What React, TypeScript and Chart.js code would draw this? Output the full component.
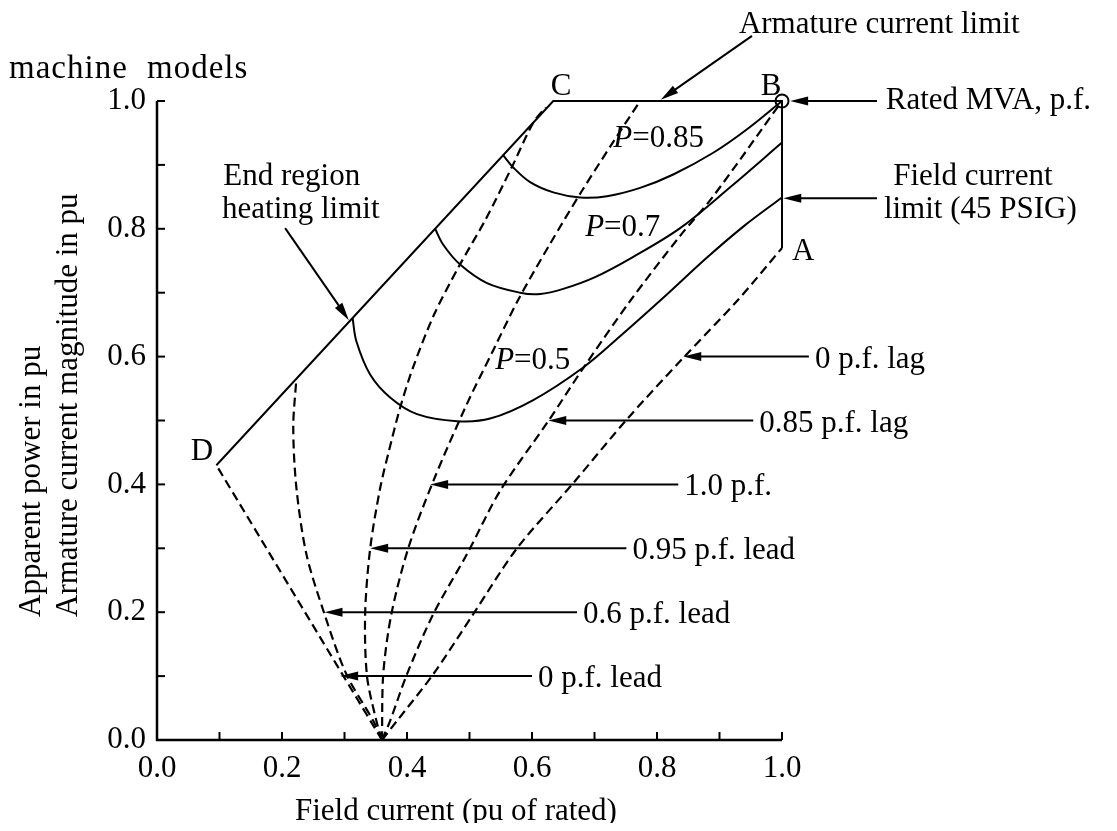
import React, { useEffect, useRef } from "react";
import { Chart, registerables } from "chart.js";

Chart.register(...registerables);

const SERIF = '"Liberation Serif", "Times New Roman", serif';

// ---------------- data (x = field current pu, y = armature current / apparent power pu) ----------------
// Capability boundary D - C - B - A
const boundaryX = [0.095, 0.634, 1.0, 1.0];
const boundaryY = [0.43, 1.0, 1.0, 0.77];

// Constant real power curves
const p085X = [0.554, 0.57, 0.597, 0.634, 0.677, 0.72, 0.773, 0.826, 0.89, 0.943, 1.0];
const p085Y = [0.915, 0.896, 0.873, 0.857, 0.849, 0.851, 0.864, 0.885, 0.919, 0.955, 1.0];

const p07X = [0.445, 0.458, 0.485, 0.528, 0.581, 0.613, 0.65, 0.7, 0.76, 0.837, 0.917, 1.0];
const p07Y = [0.8, 0.775, 0.744, 0.715, 0.7, 0.698, 0.706, 0.724, 0.755, 0.801, 0.865, 0.935];

const p05X = [0.313, 0.319, 0.341, 0.373, 0.416, 0.48, 0.533, 0.602, 0.682, 0.74, 0.81, 0.88, 0.94, 1.0];
const p05Y = [0.66, 0.624, 0.572, 0.536, 0.51, 0.499, 0.503, 0.532, 0.583, 0.631, 0.692, 0.755, 0.805, 0.849];

// Constant power-factor lines (dashed)
const pf0LeadX = [0.36, 0.095];
const pf0LeadY = [0.0, 0.43];

const pf06LeadX = [0.36, 0.346, 0.303, 0.268, 0.239, 0.223, 0.218, 0.223];
const pf06LeadY = [0.0, 0.03, 0.103, 0.197, 0.291, 0.395, 0.49, 0.565];

const pf095LeadX = [0.36, 0.351, 0.336, 0.333, 0.341, 0.357, 0.371, 0.389, 0.41, 0.443, 0.483, 0.526, 0.567, 0.602, 0.622];
const pf095LeadY = [0.0, 0.03, 0.1, 0.197, 0.299, 0.394, 0.452, 0.52, 0.584, 0.665, 0.741, 0.815, 0.895, 0.966, 0.99];

const pf10X = [0.36, 0.362, 0.375, 0.402, 0.442, 0.494, 0.538, 0.578, 0.628, 0.679, 0.73, 0.773];
const pf10Y = [0.0, 0.103, 0.197, 0.3, 0.405, 0.522, 0.61, 0.689, 0.775, 0.858, 0.936, 1.0];

const pf085LagX = [0.36, 0.373, 0.4, 0.442, 0.496, 0.549, 0.626, 0.682, 0.757, 0.837, 0.89, 1.0];
const pf085LagY = [0.0, 0.03, 0.103, 0.197, 0.291, 0.39, 0.499, 0.582, 0.687, 0.789, 0.851, 1.0];

const pf0LagX = [0.36, 0.384, 0.442, 0.506, 0.576, 0.666, 0.752, 0.842, 0.928, 1.0];
const pf0LagY = [0.0, 0.03, 0.103, 0.197, 0.3, 0.402, 0.502, 0.598, 0.687, 0.77];

// Rated point B
const ratedX = [1.0];
const ratedY = [1.0];

// Axis ticks
const xTickValues = [0, 0.2, 0.4, 0.6, 0.8, 1.0];
const yTickValues = [0, 0.2, 0.4, 0.6, 0.8, 1.0];

// Power-factor labels with their pointer arrows
const pfLabels = ["0 p.f. lag", "0.85 p.f. lag", "1.0 p.f.", "0.95 p.f. lead", "0.6 p.f. lead", "0 p.f. lead"];
const pfArrowY = [0.6, 0.5, 0.4, 0.3, 0.2, 0.1];
const pfArrowTipX = [0.842, 0.626, 0.437, 0.341, 0.268, 0.293];
const pfArrowTailX = [1.043, 0.954, 0.834, 0.751, 0.672, 0.6];

// Point letters
const letterText = ["C", "B", "A", "D"];
const letterX = [0.63, 0.966, 1.016, 0.054];
const letterY = [1.009, 1.009, 0.751, 0.438];

// P labels
const pLabelValue = ["0.85", "0.7", "0.5"];
const pLabelX = [0.73, 0.685, 0.541];
const pLabelY = [0.928, 0.789, 0.581];

// Other text notes (left, baseline in data units)
const noteText = ["Armature current limit", "Rated MVA, p.f.", "Field current", "limit (45 PSIG)", "End region", "heating limit"];
const noteX = [0.931, 1.166, 1.178, 1.163, 0.106, 0.104];
const noteY = [1.106, 0.988, 0.869, 0.817, 0.869, 0.817];

// Other arrows [fromX, fromY, toX, toY]
const noteArrows = [
  [0.952, 1.102, 0.806, 1.002],
  [1.152, 1.0, 1.013, 1.0],
  [1.152, 0.848, 1.002, 0.848],
  [0.205, 0.801, 0.307, 0.657],
];

const zip = (xs: number[], ys: number[]) => xs.map((x, i) => ({ x, y: ys[i] }));

function solid(data: { x: number; y: number }[], tension = 0.35) {
  return {
    data,
    showLine: true,
    borderColor: "#000",
    borderWidth: 2,
    pointRadius: 0,
    tension,
    clip: false as const,
  };
}
function dashed(data: { x: number; y: number }[]) {
  return {
    data,
    showLine: true,
    borderColor: "#000",
    borderWidth: 2.2,
    borderDash: [9, 5],
    pointRadius: 0,
    tension: 0.3,
    clip: false as const,
  };
}

const overlayPlugin = {
  id: "overlay",
  afterDraw(chart: any) {
    const ctx: CanvasRenderingContext2D = chart.ctx;
    const xs = chart.scales.x;
    const ys = chart.scales.y;
    const px = (v: number) => xs.getPixelForValue(v);
    const py = (v: number) => ys.getPixelForValue(v);
    const ca = chart.chartArea;

    ctx.save();
    ctx.strokeStyle = "#000";
    ctx.fillStyle = "#000";
    ctx.lineCap = "butt";

    // axes
    ctx.lineWidth = 2.5;
    ctx.beginPath();
    ctx.moveTo(px(0), py(1));
    ctx.lineTo(px(0), py(0));
    ctx.lineTo(px(1), py(0));
    ctx.stroke();
    // inward ticks every 0.1
    ctx.lineWidth = 2;
    for (let i = 0; i <= 10; i++) {
      const v = i / 10;
      ctx.beginPath();
      ctx.moveTo(px(v), py(0));
      ctx.lineTo(px(v), py(0) - 8);
      ctx.stroke();
      ctx.beginPath();
      ctx.moveTo(px(0), py(v));
      ctx.lineTo(px(0) + 8, py(v));
      ctx.stroke();
    }

    const arrow = (x1: number, y1: number, x2: number, y2: number) => {
      const ang = Math.atan2(y2 - y1, x2 - x1);
      const L = 18;
      const W = 4.5;
      const bx = x2 - L * Math.cos(ang);
      const by = y2 - L * Math.sin(ang);
      ctx.lineWidth = 2;
      ctx.beginPath();
      ctx.moveTo(x1, y1);
      ctx.lineTo(bx + 4 * Math.cos(ang), by + 4 * Math.sin(ang));
      ctx.stroke();
      ctx.beginPath();
      ctx.moveTo(x2, y2);
      ctx.lineTo(bx - W * Math.sin(ang), by + W * Math.cos(ang));
      ctx.lineTo(bx + W * Math.sin(ang), by - W * Math.cos(ang));
      ctx.closePath();
      ctx.fill();
    };

    const font = `31px ${SERIF}`;
    ctx.font = font;
    ctx.textAlign = "left";
    ctx.textBaseline = "alphabetic";

    // power factor arrows + labels
    pfLabels.forEach((t, i) => {
      const yy = py(pfArrowY[i]);
      arrow(px(pfArrowTailX[i]), yy, px(pfArrowTipX[i]), yy);
      ctx.fillText(t, px(pfArrowTailX[i]) + 6, yy + 11);
    });

    // other arrows
    noteArrows.forEach((a) => arrow(px(a[0]), py(a[1]), px(a[2]), py(a[3])));

    // notes
    noteText.forEach((t, i) => ctx.fillText(t, px(noteX[i]), py(noteY[i])));

    // letters
    letterText.forEach((t, i) => ctx.fillText(t, px(letterX[i]), py(letterY[i])));

    // P labels (italic P)
    pLabelValue.forEach((v, i) => {
      const x0 = px(pLabelX[i]);
      const y0 = py(pLabelY[i]);
      ctx.font = `italic 31px ${SERIF}`;
      ctx.fillText("P", x0, y0);
      const w = ctx.measureText("P").width;
      ctx.font = font;
      ctx.fillText("=" + v, x0 + w, y0);
    });

    // titles
    ctx.font = `31px ${SERIF}`;
    ctx.fillText("Field current (pu of rated)", ca.left + 138, ca.bottom + 80);

    ctx.save();
    ctx.translate(ca.left - 117, ca.bottom - 123);
    ctx.rotate(-Math.PI / 2);
    ctx.fillText("Apparent power in pu", 0, 0);
    ctx.restore();
    ctx.save();
    ctx.translate(ca.left - 80, ca.bottom - 123);
    ctx.rotate(-Math.PI / 2);
    ctx.fillText("Armature current magnitude in pu", 0, 0);
    ctx.restore();

    ctx.save();
    try {
      (ctx as any).letterSpacing = "1px";
      (ctx as any).wordSpacing = "10px";
    } catch (e) {}
    ctx.font = `33px ${SERIF}`;
    ctx.fillText("machine models", 1, ca.top - 23);
    ctx.restore();

    ctx.restore();
  },
};

export default function App() {
  const ref = useRef<HTMLCanvasElement | null>(null);

  useEffect(() => {
    if (!ref.current) return;
    const tickFont = { family: SERIF, size: 31 };
    const chart = new Chart(ref.current, {
      type: "scatter",
      data: {
        datasets: [
          solid(zip(boundaryX, boundaryY), 0),
          solid(zip(p085X, p085Y)),
          solid(zip(p07X, p07Y)),
          solid(zip(p05X, p05Y)),
          dashed(zip(pf0LeadX, pf0LeadY)),
          dashed(zip(pf06LeadX, pf06LeadY)),
          dashed(zip(pf095LeadX, pf095LeadY)),
          dashed(zip(pf10X, pf10Y)),
          dashed(zip(pf085LagX, pf085LagY)),
          dashed(zip(pf0LagX, pf0LagY)),
          {
            data: zip(ratedX, ratedY),
            showLine: false,
            pointRadius: 6.5,
            pointBorderWidth: 2,
            pointBorderColor: "#000",
            pointBackgroundColor: "rgba(0,0,0,0)",
            clip: false,
          } as any,
        ],
      },
      options: {
        animation: false,
        responsive: false,
        events: [],
        layout: { padding: { top: 93, right: 327, left: 0, bottom: 0 } },
        plugins: { legend: { display: false }, tooltip: { enabled: false } },
        scales: {
          x: {
            type: "linear",
            min: 0,
            max: 1,
            grid: { display: false, drawTicks: false },
            border: { display: false },
            afterBuildTicks: (s: any) => {
              s.ticks = xTickValues.map((v) => ({ value: v }));
            },
            ticks: {
              padding: 10,
              color: "#000",
              font: tickFont,
              maxRotation: 0,
              autoSkip: false,
              callback: (v: any) => Number(v).toFixed(1),
            },
            afterFit: (s: any) => {
              s.height = 83;
            },
          },
          y: {
            type: "linear",
            min: 0,
            max: 1,
            grid: { display: false, drawTicks: false },
            border: { display: false },
            afterBuildTicks: (s: any) => {
              s.ticks = yTickValues.map((v) => ({ value: v }));
            },
            ticks: {
              padding: 11,
              color: "#000",
              font: tickFont,
              autoSkip: false,
              callback: (v: any) => Number(v).toFixed(1),
            },
            afterFit: (s: any) => {
              s.width = 149;
            },
          },
        },
      } as any,
      plugins: [overlayPlugin],
    });
    return () => chart.destroy();
  }, []);

  return (
    <div style={{ width: 1101, height: 815, background: "#fff" }}>
      <canvas ref={ref} width={1101} height={815} style={{ display: "block", width: 1101, height: 815 }} />
    </div>
  );
}
